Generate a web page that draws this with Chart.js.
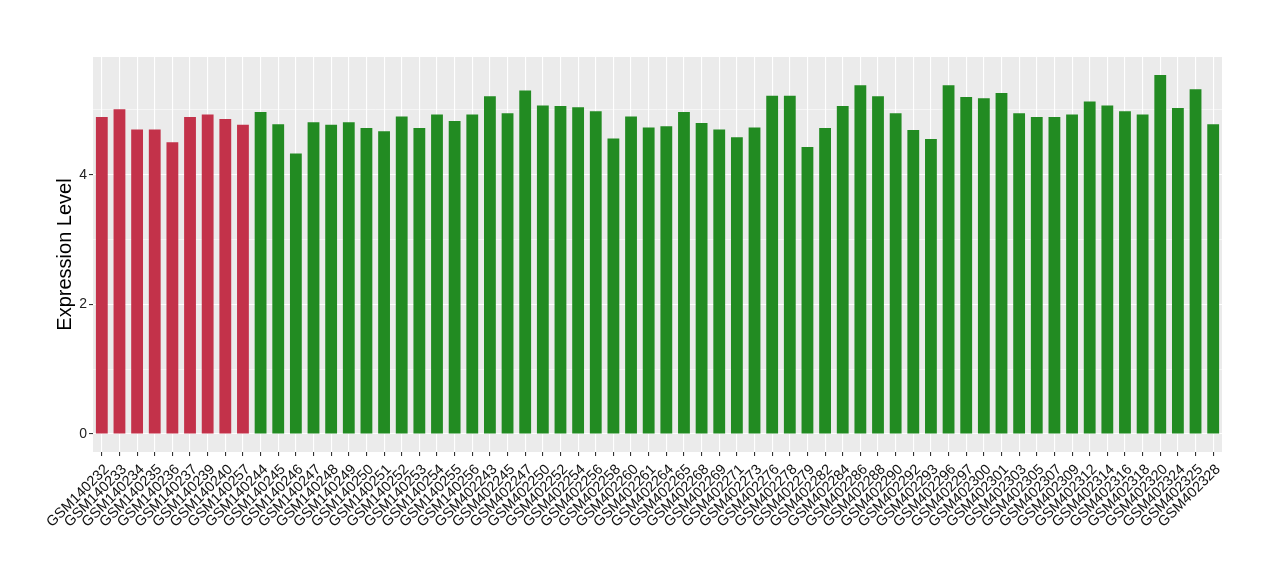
<!DOCTYPE html>
<html>
<head>
<meta charset="utf-8">
<script src="https://cdn.jsdelivr.net/npm/chart.js@4.4.0/dist/chart.umd.min.js"></script>
<style>
  html, body { margin: 0; padding: 0; background: #fff; }
  #wrap { width: 1280px; height: 580px; }
</style>
</head>
<body>
<div id="wrap"><canvas id="chart"></canvas></div>
<script>
const samples = [
  "GSM140232", "GSM140233", "GSM140234", "GSM140235", "GSM140236", "GSM140237", "GSM140239", "GSM140240", "GSM140257",
  "GSM140244", "GSM140245", "GSM140246", "GSM140247", "GSM140248", "GSM140249", "GSM140250", "GSM140251", "GSM140252",
  "GSM140253", "GSM140254", "GSM140255", "GSM140256", "GSM402243", "GSM402245", "GSM402247", "GSM402250", "GSM402252",
  "GSM402254", "GSM402256", "GSM402258", "GSM402260", "GSM402261", "GSM402264", "GSM402265", "GSM402268", "GSM402269",
  "GSM402271", "GSM402273", "GSM402276", "GSM402278", "GSM402279", "GSM402282", "GSM402284", "GSM402286", "GSM402288",
  "GSM402290", "GSM402292", "GSM402293", "GSM402296", "GSM402297", "GSM402300", "GSM402301", "GSM402303", "GSM402305",
  "GSM402307", "GSM402309", "GSM402312", "GSM402314", "GSM402316", "GSM402318", "GSM402320", "GSM402324", "GSM402325",
  "GSM402328"
];

const expression = [
  4.89, 5.01, 4.70, 4.70, 4.50, 4.89, 4.93, 4.86, 4.77,
  4.97, 4.78, 4.33, 4.81, 4.77, 4.81, 4.72, 4.67, 4.90,
  4.72, 4.93, 4.83, 4.93, 5.21, 4.95, 5.30, 5.07, 5.06,
  5.04, 4.98, 4.56, 4.90, 4.73, 4.75, 4.97, 4.80, 4.70,
  4.58, 4.73, 5.22, 5.22, 4.43, 4.72, 5.06, 5.38, 5.21,
  4.95, 4.69, 4.55, 5.38, 5.20, 5.18, 5.26, 4.95, 4.89,
  4.89, 4.93, 5.13, 5.07, 4.98, 4.93, 5.54, 5.03, 5.32,
  4.78
];

// first 9 samples are one group, the rest the other
const groups = samples.map((s, i) => i < 9 ? "red" : "green");
const groupColors = { red: "#C3324A", green: "#228B22" };

const yTicks = [0, 1, 2, 3, 4, 5];
const yLabelled = [0, 2, 4];

const panelBg = {
  id: "panelBg",
  beforeDraw(chart) {
    const a = chart.chartArea;
    const ctx = chart.ctx;
    ctx.save();
    ctx.fillStyle = "#EBEBEB";
    ctx.fillRect(a.left, a.top, a.right - a.left, a.bottom - a.top);
    ctx.restore();
  }
};

const font = "'Liberation Sans', Arial, Helvetica, sans-serif";

new Chart(document.getElementById("chart"), {
  type: "bar",
  data: {
    labels: samples,
    datasets: [{
      data: expression,
      backgroundColor: groups.map(g => groupColors[g]),
      barPercentage: 0.67,
      categoryPercentage: 1
    }]
  },
  options: {
    responsive: true,
    maintainAspectRatio: false,
    animation: false,
    layout: { padding: { top: 57, right: 58, bottom: 0, left: 0 } },
    plugins: {
      legend: { display: false },
      tooltip: { enabled: false }
    },
    scales: {
      x: {
        offset: true,
        grid: {
          offset: false,
          color: "#FFFFFF",
          lineWidth: 1.1,
          tickColor: "#333333",
          tickLength: 4
        },
        border: { display: false },
        ticks: {
          autoSkip: false,
          minRotation: 45,
          maxRotation: 45,
          padding: 5,
          labelOffset: 5,
          color: "#111111",
          font: { family: font, size: 14.5 }
        },
        afterFit(scale) { scale.height = 128; }
      },
      y: {
        min: -0.277,
        max: 5.817,
        afterBuildTicks(scale) {
          scale.ticks = yTicks.map(v => ({ value: v }));
        },
        grid: {
          color: "#FFFFFF",
          lineWidth: ctx => (ctx.tick && yLabelled.includes(ctx.tick.value)) ? 1.1 : 0.55,
          tickColor: ctx => (ctx.tick && yLabelled.includes(ctx.tick.value)) ? "#333333" : "rgba(0,0,0,0)",
          tickLength: 4
        },
        border: { display: false },
        ticks: {
          padding: 2,
          color: "#222222",
          font: { family: font, size: 14 },
          callback: v => yLabelled.includes(v) ? String(v) : ""
        },
        title: {
          display: true,
          text: "Expression Level",
          color: "#000000",
          font: { family: font, size: 20 },
          padding: { top: 53, bottom: 0 }
        },
        afterFit(scale) { scale.width = 93; }
      }
    }
  },
  plugins: [panelBg]
});
</script>
</body>
</html>
